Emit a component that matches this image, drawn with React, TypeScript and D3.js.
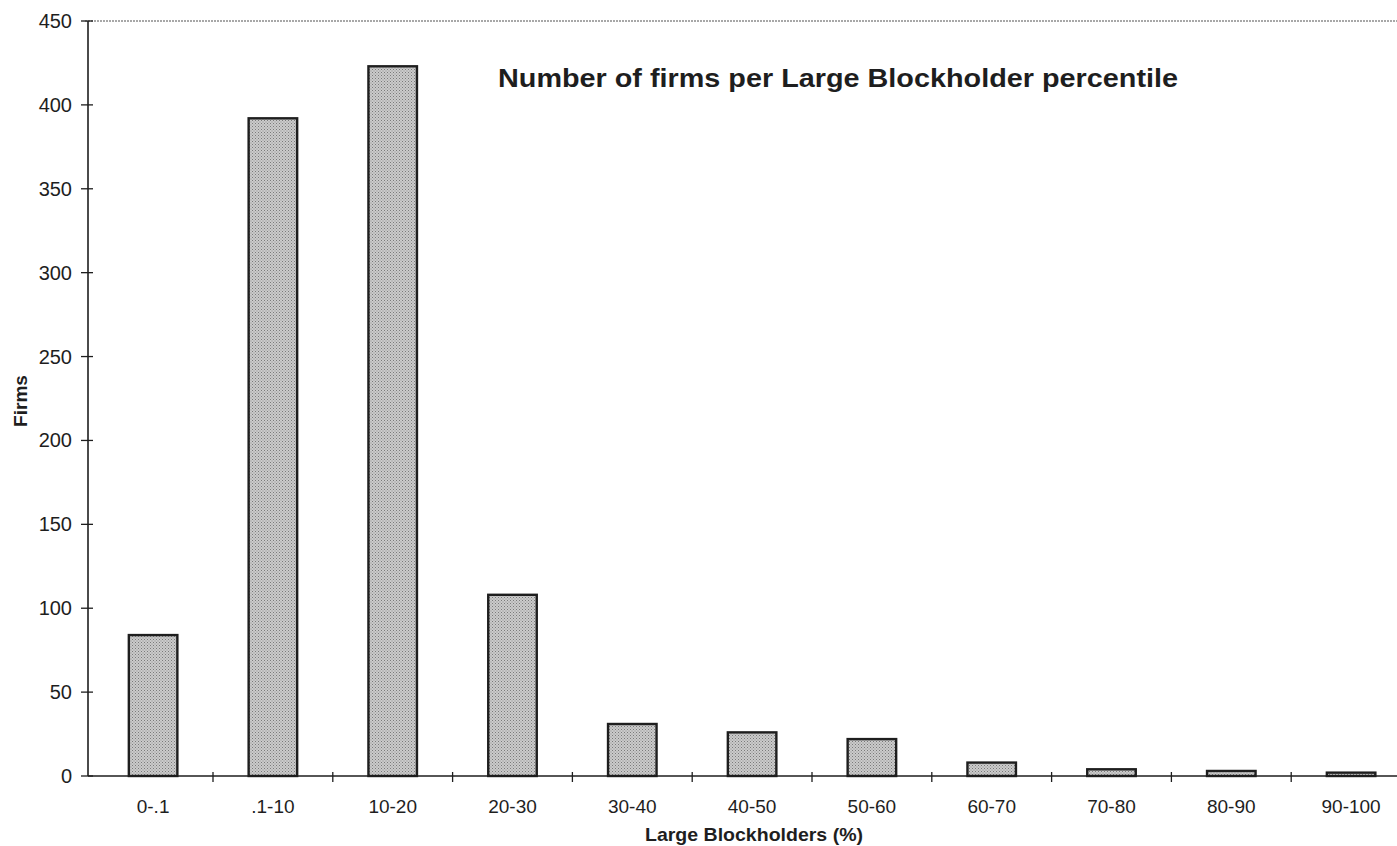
import React from "react";
import * as d3 from "d3";

// Ownership bins of the largest blockholder and the number of firms in each
const categories: string[] = [
  "0-.1", ".1-10", "10-20", "20-30", "30-40", "40-50",
  "50-60", "60-70", "70-80", "80-90", "90-100",
];
const firms: number[] = [84, 392, 423, 108, 31, 26, 22, 8, 4, 3, 2];
const yTicks: number[] = [0, 50, 100, 150, 200, 250, 300, 350, 400, 450];

const title = "Number of firms per Large Blockholder percentile";
const xTitle = "Large Blockholders (%)";
const yTitle = "Firms";

const W = 1397;
const H = 846;
const left = 88;
const top = 21;
const bottom = 776;
const step = 119.8;
const bandStart = 93.2;

export default function App() {
  const x = d3
    .scaleBand<string>()
    .domain(categories)
    .range([bandStart, bandStart + step * categories.length])
    .padding(0);
  const y = d3.scaleLinear().domain([0, 450]).range([bottom, top]);
  const barW = x.bandwidth() * 0.405;
  const font = "'Liberation Sans', Arial, Helvetica, sans-serif";
  const ink = "#1e1e1e";

  // category boundaries where the x-axis ticks sit
  const boundaries = categories.slice(1).map((c) => x(c) as number);

  return (
    <svg
      width={W}
      height={H}
      style={{ position: "absolute", left: 0, top: 0, background: "#fff" }}
      fontFamily={font}
    >
      <defs>
        <pattern id="stipple" width="3" height="3" patternUnits="userSpaceOnUse">
          <rect width="3" height="3" fill="#cbcbcb" />
          <rect x="0" y="0" width="1" height="1" fill="#7a7a7a" />
          <rect x="1.5" y="1.5" width="1" height="1" fill="#8e8e8e" />
        </pattern>
      </defs>

      {/* top frame line */}
      <line x1={left - 3} x2={W} y1={top} y2={top} stroke="#8c8c8c" strokeWidth={1.3} strokeDasharray="2 1" />

      {/* bars */}
      {firms.map((v, i) => {
        const cx = (x(categories[i]) as number) + x.bandwidth() / 2;
        return (
          <rect
            key={categories[i]}
            x={cx - barW / 2}
            y={y(v)}
            width={barW}
            height={bottom - y(v)}
            fill="url(#stipple)"
            stroke={ink}
            strokeWidth={2.4}
          />
        );
      })}

      {/* y axis */}
      <line x1={left} x2={left} y1={top} y2={bottom} stroke={ink} strokeWidth={1.6} />
      {yTicks.map((t) => (
        <g key={t} transform={`translate(0,${y(t)})`}>
          <line x1={left - 7} x2={left + 5} stroke={ink} strokeWidth={1.3} />
          <text x={left - 16} dy="0.35em" textAnchor="end" fontSize={20} fill={ink}>
            {t}
          </text>
        </g>
      ))}

      {/* x axis */}
      <line x1={left} x2={W} y1={bottom} y2={bottom} stroke={ink} strokeWidth={1.6} />
      {boundaries.map((bx, i) => (
        <line key={i} x1={bx} x2={bx} y1={bottom - 4} y2={bottom + 6} stroke={ink} strokeWidth={1.3} />
      ))}
      {categories.map((c) => (
        <text
          key={c}
          x={(x(c) as number) + x.bandwidth() / 2}
          y={813}
          textAnchor="middle"
          fontSize={19}
          fill={ink}
        >
          {c}
        </text>
      ))}

      {/* titles */}
      <text x={498} y={87} fontSize={26} fontWeight="bold" fill={ink} textLength={680} lengthAdjust="spacingAndGlyphs">
        {title}
      </text>
      <text x={754} y={841} textAnchor="middle" fontSize={19} fontWeight="bold" fill={ink} textLength={218} lengthAdjust="spacingAndGlyphs">
        {xTitle}
      </text>
      <text
        transform={`translate(27,401) rotate(-90)`}
        textAnchor="middle"
        fontSize={19}
        fontWeight="bold"
        fill={ink}
        textLength={52}
        lengthAdjust="spacingAndGlyphs"
      >
        {yTitle}
      </text>
    </svg>
  );
}
